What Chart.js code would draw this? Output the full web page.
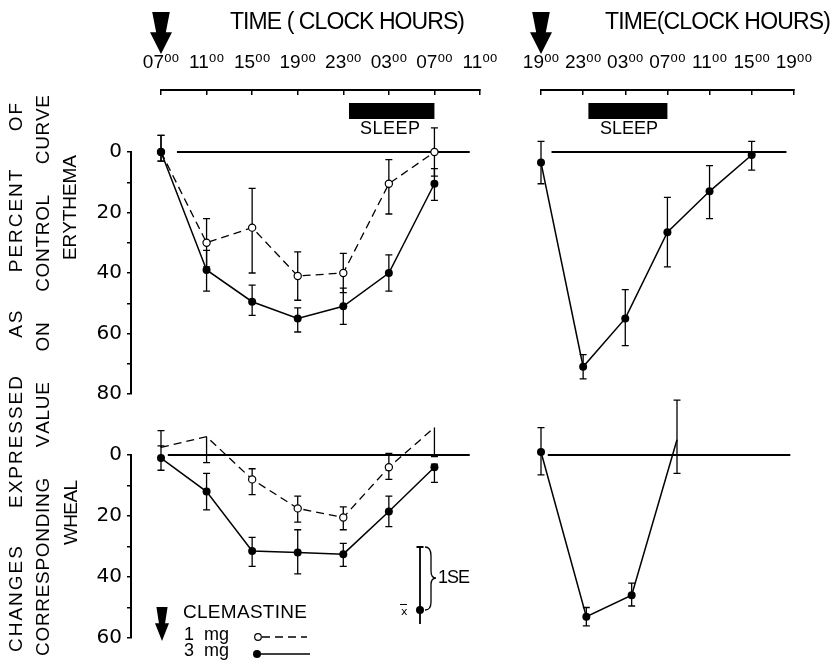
<!DOCTYPE html>
<html>
<head>
    <title>Clemastine - erythema and wheal</title>
    <style>
        body {
            margin: 0;
            background-color: #fff;
        }

        #wrap {
            position: relative;
            width: 833px;
            height: 667px;
        }

        #wrap canvas {
            position: absolute;
            left: 0;
            top: 0;
        }
    </style>
    <script src="https://cdn.jsdelivr.net/npm/chart.js@4"></script>
</head>
<body>
    <div id="wrap">
        <canvas id="eryL" width="833" height="667"></canvas>
        <canvas id="whL" width="833" height="667"></canvas>
        <canvas id="eryR" width="833" height="667"></canvas>
        <canvas id="whR" width="833" height="667"></canvas>
    </div>
    <script>
        // time axis: hours after the dose, labelled with clock hours
        var clockL = ['07', '11', '15', '19', '23', '03', '07', '11'];
        var clockR = ['19', '23', '03', '07', '11', '15', '19'];
        var hoursL = [0, 4, 8, 12, 16, 20, 24];
        var hoursR = [0, 4, 8, 12, 16, 20];
        var hoursRW = [0, 4, 8, 12];

        // erythema, dose at 07:00 (% change from control curve)
        var eryL3 = [0, 39, 49.5, 55, 51, 40, 10.5];
        var eryL3Lo = [-5.5, 32.5, 44, 51.5, 45, 34, 5.5];
        var eryL3Hi = [3, 46, 54, 59.5, 57, 46, 16];
        var eryL1 = [0, 30, 25, 41, 40, 10.5, 0];
        var eryL1Lo = [-5.5, 22, 12, 33, 33.5, 2.5, -8];
        var eryL1Hi = [3, 38, 40, 49, 46.5, 20.5, 8];

        // wheal, dose at 07:00
        var whL3 = [1, 12, 31.5, 32, 32.5, 18.5, 4];
        var whL3Lo = [-3, 6, 27, 24.5, 29, 13.5, 3];
        var whL3Hi = [5, 18, 36.5, 39, 36.5, 23.5, 9];
        var whL1 = [-2.5, -6, 8, 17.5, 20.5, 4, -9];
        var whL1Lo = [-8, -6, 4.5, 13.5, 17, -0.5, -9];
        var whL1Hi = [-2.5, 2.5, 13, 22, 24.5, 8, 0.5];

        // dose at 19:00, 3 mg only
        var eryR3 = [3.5, 71, 55, 26.5, 13, 1];
        var eryR3Lo = [-3.5, 67, 45.5, 15, 4.5, -3.5];
        var eryR3Hi = [10.5, 75, 64, 38, 22, 6];
        var whR3 = [-1, 53, 46, -5];
        var whR3Lo = [-9, 50, 42, -18];
        var whR3Hi = [6.5, 56, 49.5, 6];

        // sleep period and zero lines (hours after dose)
        var sleepL = [16.5, 24];
        var sleepR = [4.5, 12];
        var zeroEryL = [1.4, 27.1];
        var zeroWhL = [0.6, 27.1];
        var zeroEryR = [1, 23.3];
        var zeroWhR = [0.6, 22];

        var NARROW = "'Liberation Sans', 'DejaVu Sans', sans-serif";
        var PLAIN = "'DejaVu Sans', sans-serif";

        function pts(xs, ys) {
            return xs.map(function(x, i) { return { x: x, y: ys[i] }; });
        }

        function solid(xs, ys) {
            return { data: pts(xs, ys), borderColor: '#000', borderWidth: 1.5, pointRadius: 4,
                     pointBackgroundColor: '#000', pointBorderWidth: 0, clip: false };
        }

        function dashed(xs, ys) {
            return { data: pts(xs, ys), borderColor: '#000', borderWidth: 1.3, borderDash: [8, 5],
                     pointRadius: 3.6, pointBackgroundColor: '#fff', pointBorderColor: '#000',
                     pointBorderWidth: 1.2, clip: false };
        }

        function zeroLine(span) {
            return { data: pts(span, [0, 0]), borderColor: '#000', borderWidth: 2.2, pointRadius: 0, clip: false };
        }

        function errorBars(sets) {
            return {
                id: 'errbars',
                beforeDatasetsDraw: function(chart) {
                    var ctx = chart.ctx, xs = chart.scales.x, ys = chart.scales.y;
                    ctx.save();
                    ctx.strokeStyle = '#000';
                    ctx.lineWidth = 1.3;
                    sets.forEach(function(s) {
                        s.x.forEach(function(h, i) {
                            var px = xs.getPixelForValue(h);
                            var a = ys.getPixelForValue(s.lo[i]), b = ys.getPixelForValue(s.hi[i]);
                            ctx.beginPath();
                            ctx.moveTo(px, a);
                            ctx.lineTo(px, b);
                            if (s.lo[i] !== s.mid[i]) { ctx.moveTo(px - 3.5, a); ctx.lineTo(px + 3.5, a); }
                            if (s.hi[i] !== s.mid[i]) { ctx.moveTo(px - 3.5, b); ctx.lineTo(px + 3.5, b); }
                            ctx.stroke();
                        });
                    });
                    ctx.restore();
                }
            };
        }

        // move the axes off the plot box, like the drawing
        function shiftAxes(dx, dy) {
            return {
                id: 'shiftAxes',
                afterLayout: function(chart) {
                    var y = chart.scales.y, x = chart.scales.x;
                    y.left -= dx; y.right -= dx;
                    x.top -= dy; x.bottom -= dy;
                }
            };
        }

        function spaced(ctx, text, x0, x1, y) {
            var chars = text.split('');
            var w = chars.map(function(c) { return ctx.measureText(c).width; });
            var total = w.reduce(function(a, b) { return a + b; }, 0);
            var extra = chars.length > 1 ? (x1 - x0 - total) / (chars.length - 1) : 0;
            var x = x0;
            ctx.textAlign = 'left';
            chars.forEach(function(c, i) { ctx.fillText(c, x, y); x += w[i] + extra; });
        }

        function vertical(ctx, text, cx, yBottom, yTop) {
            ctx.save();
            ctx.translate(cx, yBottom);
            ctx.rotate(-Math.PI / 2);
            spaced(ctx, text, 0, yBottom - yTop, 0);
            ctx.restore();
        }

        function arrow(ctx, cx, top, bottom, w) {
            var m = top + (bottom - top) * 0.48;
            ctx.beginPath();
            ctx.moveTo(cx - w * 0.4, top);
            ctx.lineTo(cx + w * 0.4, top);
            ctx.lineTo(cx + w * 0.22, m);
            ctx.lineTo(cx + w * 0.5, m);
            ctx.lineTo(cx, bottom);
            ctx.lineTo(cx - w * 0.5, m);
            ctx.lineTo(cx - w * 0.22, m);
            ctx.closePath();
            ctx.fill();
        }

        function header(sleep, title, t0, t1, sleepText) {
            return {
                id: 'header',
                afterDraw: function(chart) {
                    var ctx = chart.ctx, xs = chart.scales.x;
                    var x0 = xs.getPixelForValue(0);
                    ctx.save();
                    ctx.fillStyle = '#000';
                    arrow(ctx, x0, 12, 54, 22);
                    ctx.font = '23px ' + NARROW;
                    ctx.textBaseline = 'middle';
                    spaced(ctx, title, t0, t1, 23);
                    var s0 = xs.getPixelForValue(sleep[0]), s1 = xs.getPixelForValue(sleep[1]);
                    ctx.fillRect(s0, 103, s1 - s0, 16);
                    ctx.font = '18px ' + NARROW;
                    spaced(ctx, 'SLEEP', sleepText[0], sleepText[1], 129);
                    ctx.restore();
                }
            };
        }

        var leftDecor = {
            id: 'leftDecor',
            afterDraw: function(chart) {
                var ctx = chart.ctx;
                ctx.save();
                ctx.fillStyle = '#000';
                ctx.strokeStyle = '#000';
                ctx.textBaseline = 'middle';
                ctx.font = '19px ' + NARROW;
                vertical(ctx, 'CHANGES     EXPRESSED     AS     PERCENT     OF', 17, 652, 103);
                vertical(ctx, 'CORRESPONDING     VALUE     ON     CONTROL     CURVE', 44, 656, 95);
                vertical(ctx, 'ERYTHEMA', 71, 260, 155);
                vertical(ctx, 'WHEAL', 72, 545, 480);

                // legend
                arrow(ctx, 162, 607, 641, 14);
                spaced(ctx, 'CLEMASTINE', 183, 307, 613);
                ctx.font = '18px ' + NARROW;
                ctx.fillText('1  mg', 184, 635);
                ctx.fillText('3  mg', 184, 651);
                ctx.lineWidth = 1.3;
                ctx.setLineDash([8, 5]);
                ctx.beginPath(); ctx.moveTo(262, 637); ctx.lineTo(307, 637); ctx.stroke();
                ctx.setLineDash([]);
                ctx.lineWidth = 1.5;
                ctx.beginPath(); ctx.moveTo(257, 654); ctx.lineTo(310, 654); ctx.stroke();
                ctx.beginPath(); ctx.arc(257, 654, 4, 0, Math.PI * 2); ctx.fill();
                ctx.lineWidth = 1.2;
                ctx.fillStyle = '#fff';
                ctx.beginPath(); ctx.arc(258, 637, 3.3, 0, Math.PI * 2); ctx.fill(); ctx.stroke();
                ctx.fillStyle = '#000';

                // 1 SE key
                ctx.lineWidth = 1.8;
                ctx.beginPath();
                ctx.moveTo(420, 547); ctx.lineTo(420, 624);
                ctx.moveTo(416.5, 547); ctx.lineTo(423.5, 547);
                ctx.stroke();
                ctx.beginPath(); ctx.arc(420, 610, 4, 0, Math.PI * 2); ctx.fill();
                ctx.lineWidth = 1.3;
                ctx.beginPath();
                ctx.moveTo(425, 547);
                ctx.quadraticCurveTo(431, 547, 431, 556);
                ctx.lineTo(431, 571);
                ctx.quadraticCurveTo(431, 578, 436, 578);
                ctx.quadraticCurveTo(431, 578, 431, 585);
                ctx.lineTo(431, 602);
                ctx.quadraticCurveTo(431, 610, 425, 610);
                ctx.stroke();
                ctx.font = '18px ' + NARROW;
                spaced(ctx, '1SE', 438, 470, 578);
                ctx.font = '11px ' + PLAIN;
                ctx.fillText('x', 401, 612);
                ctx.fillRect(400, 604, 7, 1);
                ctx.restore();
            }
        };

        function panel(id, cfg) {
            var yW = cfg.yAxis ? 40 : 0, xH = cfg.clock ? 40 : 0;
            return new Chart(document.getElementById(id), {
                type: 'line',
                data: { datasets: cfg.datasets },
                options: {
                    responsive: false,
                    animation: false,
                    devicePixelRatio: 1,
                    layout: {
                        autoPadding: false,
                        padding: { left: cfg.area[0] - yW, top: cfg.area[1] - xH,
                                   right: 833 - cfg.area[2], bottom: 667 - cfg.area[3] }
                    },
                    elements: { line: { tension: 0 } },
                    plugins: { legend: { display: false }, tooltip: { enabled: false } },
                    scales: {
                        x: {
                            type: 'linear', position: 'top', min: 0, max: cfg.xmax,
                            display: !!cfg.clock,
                            afterFit: function(s) { s.height = xH; },
                            ticks: {
                                stepSize: 4, autoSkip: false, maxRotation: 0, padding: 21, color: '#000',
                                font: { family: NARROW, size: 19 },
                                callback: function(v) { return cfg.clock ? cfg.clock[v / 4] + '\u2070\u2070' : ''; }
                            },
                            grid: { drawOnChartArea: false, tickLength: -5, color: '#000', lineWidth: 1.5 },
                            border: { color: '#000', width: 2 }
                        },
                        y: {
                            type: 'linear', position: 'left', reverse: true, min: 0, max: cfg.ymax,
                            display: !!cfg.yAxis,
                            afterFit: function(s) { s.width = yW; },
                            ticks: {
                                stepSize: 10, autoSkip: false, padding: 5, color: '#000',
                                font: { family: PLAIN, size: 20 },
                                callback: function(v) { return v % 20 === 0 ? v : ''; }
                            },
                            grid: { drawOnChartArea: false, tickLength: 4, color: '#000', lineWidth: 1.5 },
                            border: { color: '#000', width: 2 }
                        }
                    }
                },
                plugins: cfg.plugins
            });
        }

        panel('eryL', {
            area: [161, 152, 480, 394], xmax: 28, ymax: 80, yAxis: true, clock: clockL,
            datasets: [solid(hoursL, eryL3), dashed(hoursL, eryL1), zeroLine(zeroEryL)],
            plugins: [
                errorBars([{ x: hoursL, mid: eryL1, lo: eryL1Lo, hi: eryL1Hi },
                           { x: hoursL, mid: eryL3, lo: eryL3Lo, hi: eryL3Hi }]),
                shiftAxes(30, 62),
                header(sleepL, 'TIME ( CLOCK HOURS)', 230, 465, [360, 420]),
                leftDecor
            ]
        });

        panel('whL', {
            area: [161, 455, 480, 638], xmax: 28, ymax: 60, yAxis: true,
            datasets: [solid(hoursL, whL3), dashed(hoursL, whL1), zeroLine(zeroWhL)],
            plugins: [
                errorBars([{ x: hoursL, mid: whL1, lo: whL1Lo, hi: whL1Hi },
                           { x: hoursL, mid: whL3, lo: whL3Lo, hi: whL3Hi }]),
                shiftAxes(30, 0)
            ]
        });

        panel('eryR', {
            area: [541, 152, 813, 394], xmax: 24, ymax: 80, clock: clockR,
            datasets: [solid(hoursR, eryR3), zeroLine(zeroEryR)],
            plugins: [
                errorBars([{ x: hoursR, mid: eryR3, lo: eryR3Lo, hi: eryR3Hi }]),
                shiftAxes(0, 62),
                header(sleepR, 'TIME(CLOCK HOURS)', 605, 831, [600, 658])
            ]
        });

        panel('whR', {
            area: [541, 455, 813, 638], xmax: 24, ymax: 60,
            datasets: [solid(hoursRW, whR3), zeroLine(zeroWhR)],
            plugins: [
                errorBars([{ x: hoursRW, mid: whR3, lo: whR3Lo, hi: whR3Hi }])
            ]
        });
    </script>
</body>
</html>
